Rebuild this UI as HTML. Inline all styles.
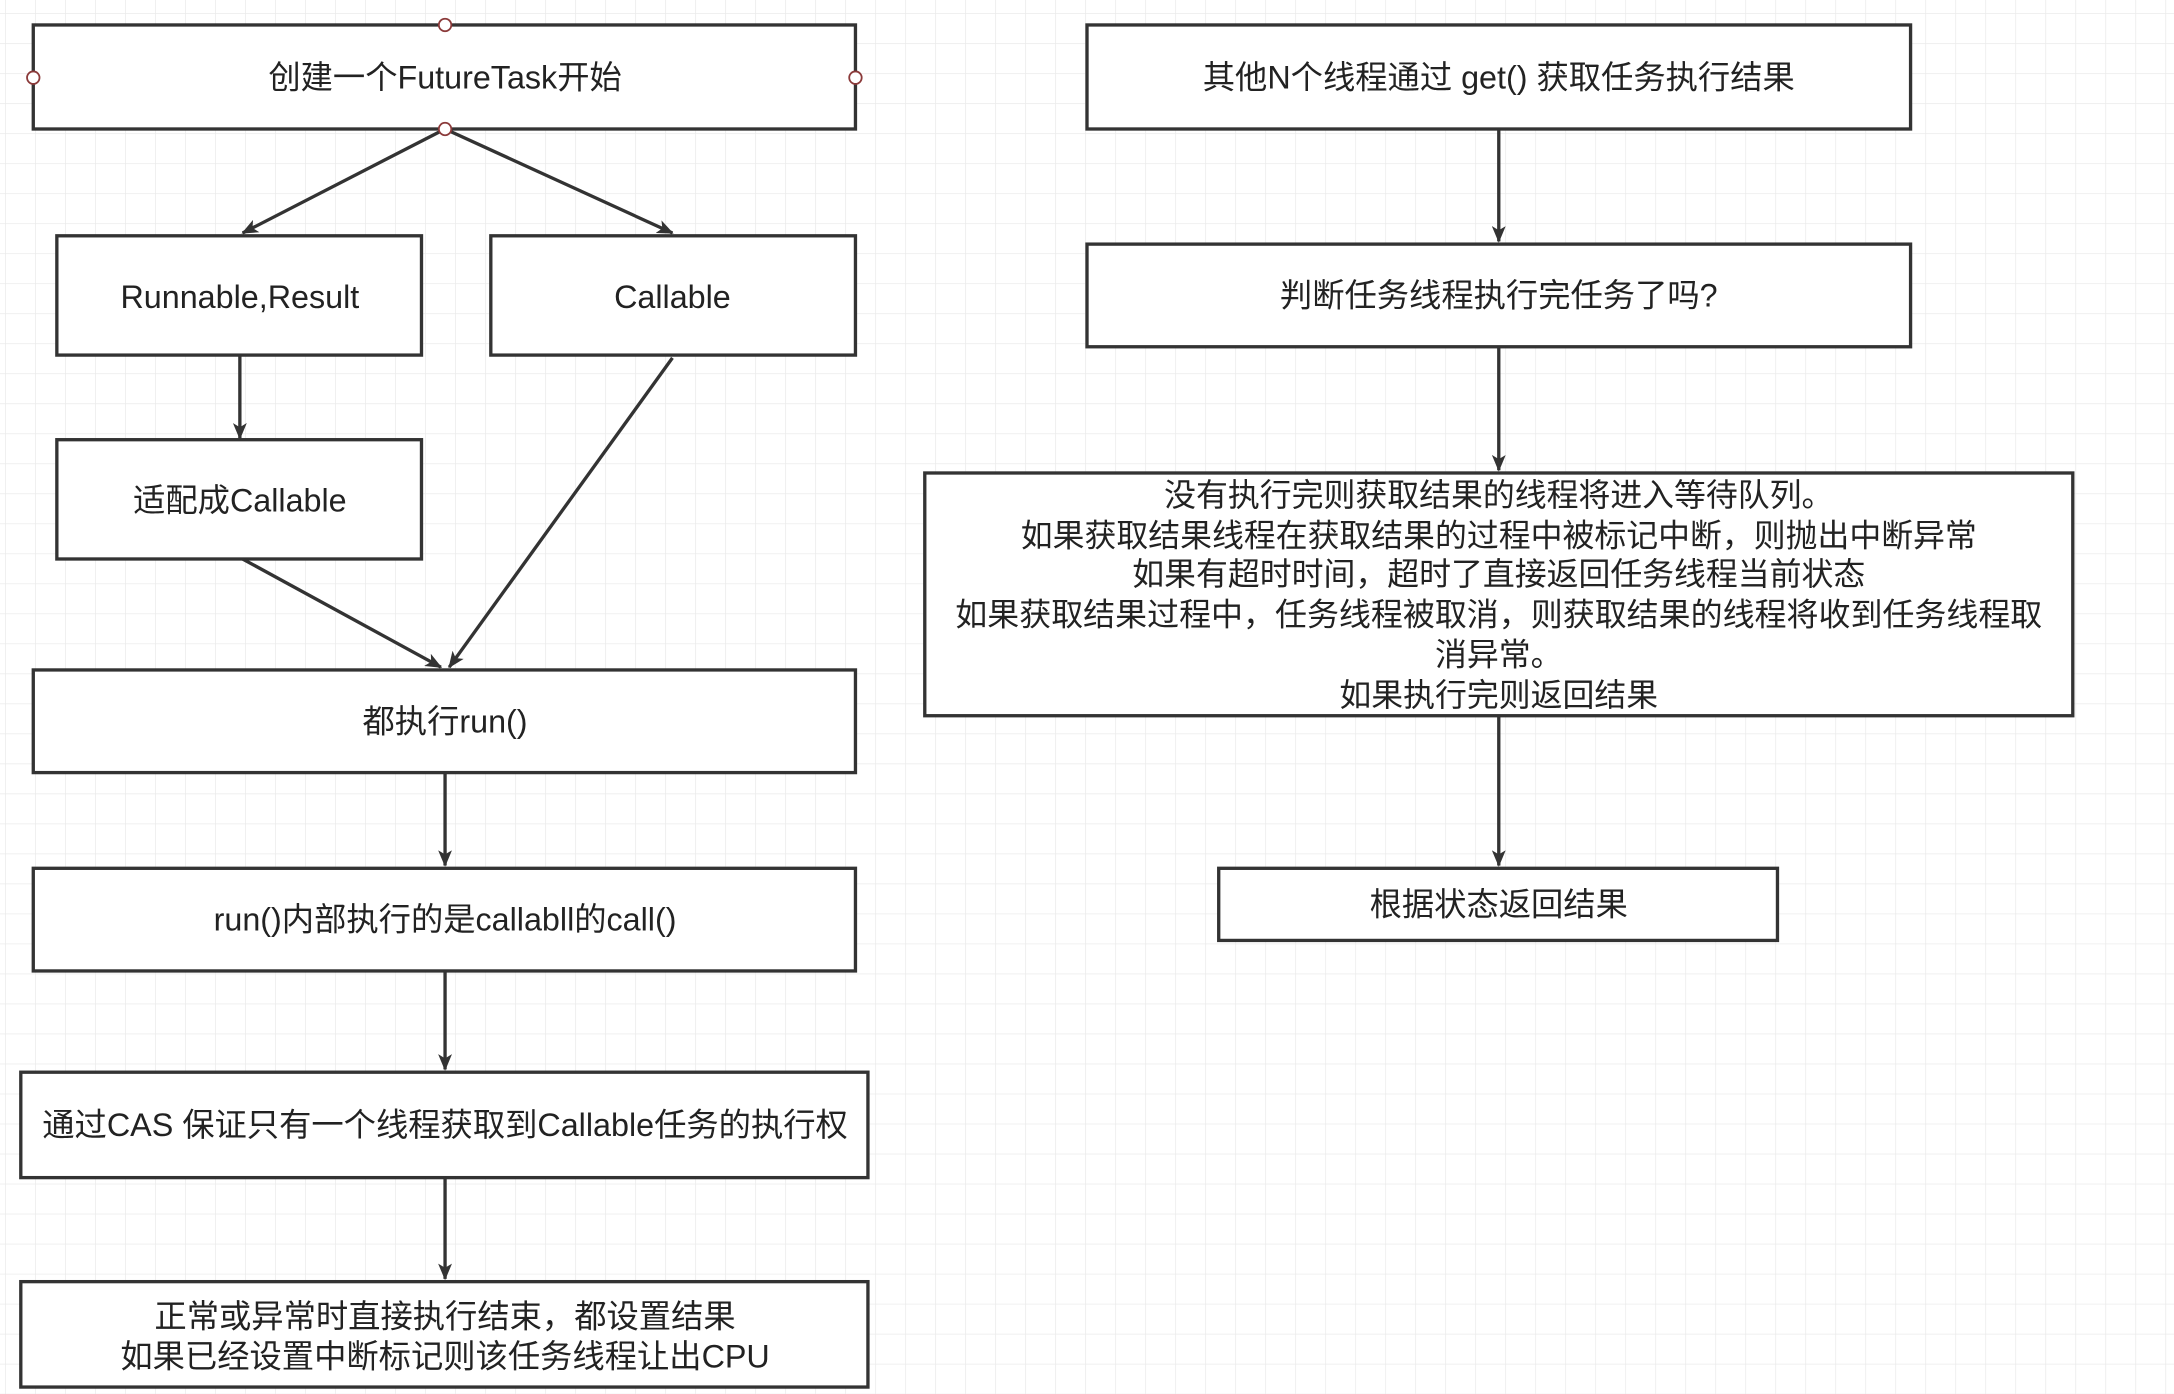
<!DOCTYPE html>
<html><head><meta charset="utf-8"><style>
html,body{margin:0;padding:0;background:#fff}
svg{display:block}
text{font-family:"Liberation Sans","Noto Sans CJK SC",sans-serif;fill:#222;text-anchor:middle;dominant-baseline:central}
</style></head><body>
<svg width="2174" height="1394" viewBox="0 0 1568 1005" preserveAspectRatio="none" xmlns="http://www.w3.org/2000/svg">
<defs>
<pattern id="g" x="3.6" y="9.4" width="21.64" height="21.64" patternUnits="userSpaceOnUse">
<path d="M0 0H21.64M0 0V21.64" stroke="#ebebeb" stroke-width="1.1" fill="none"/>
</pattern>
<marker id="a" viewBox="0 0 12 10" refX="11" refY="5" markerWidth="12" markerHeight="10" markerUnits="userSpaceOnUse" orient="auto">
<path d="M0 0L12 5L0 10L3 5Z" fill="#333"/>
</marker>
</defs>
<rect width="1568" height="1005" fill="#fff"/>
<rect width="1568" height="1005" fill="url(#g)"/>
<g fill="#fff" stroke="#333" stroke-width="2.4">
<rect x="24" y="18" width="593" height="75"/>
<rect x="41" y="170" width="263" height="86"/>
<rect x="354" y="170" width="263" height="86"/>
<rect x="41" y="317" width="263" height="86"/>
<rect x="24" y="483" width="593" height="74"/>
<rect x="24" y="626" width="593" height="74"/>
<rect x="15" y="773" width="611" height="76"/>
<rect x="15" y="924" width="611" height="76"/>
<rect x="784" y="18" width="594" height="75"/>
<rect x="784" y="176" width="594" height="74"/>
<rect x="667" y="341" width="828" height="175"/>
<rect x="879" y="626" width="403" height="52"/>
</g>
<g stroke="#333" stroke-width="2.4" fill="none" marker-end="url(#a)">
<line x1="321" y1="93" x2="175" y2="168"/>
<line x1="321" y1="93" x2="485" y2="168"/>
<line x1="173" y1="256" x2="173" y2="316"/>
<line x1="175" y1="403" x2="318" y2="481"/>
<line x1="485" y1="258" x2="324" y2="481"/>
<line x1="321" y1="557" x2="321" y2="624"/>
<line x1="321" y1="700" x2="321" y2="771"/>
<line x1="321" y1="849" x2="321" y2="922"/>
<line x1="1081" y1="93" x2="1081" y2="174"/>
<line x1="1081" y1="250" x2="1081" y2="339"/>
<line x1="1081" y1="516" x2="1081" y2="624"/>
</g>
<g fill="#fff" stroke="#8b3a3a" stroke-width="1.3">
<circle cx="321" cy="18" r="4.5"/><circle cx="24" cy="56" r="4.5"/><circle cx="617" cy="56" r="4.5"/><circle cx="321" cy="93" r="4.5"/>
</g>
<g font-size="23.3">
<text x="321" y="56">创建一个FutureTask开始</text>
<text x="173" y="214">Runnable,Result</text>
<text x="485" y="214">Callable</text>
<text x="173" y="361">适配成Callable</text>
<text x="321" y="520">都执行run()</text>
<text x="321" y="663">run()内部执行的是callabll的call()</text>
<text x="321" y="811">通过CAS 保证只有一个线程获取到Callable任务的执行权</text>
<text x="321" y="949">正常或异常时直接执行结束，都设置结果</text>
<text x="321" y="978">如果已经设置中断标记则该任务线程让出CPU</text>
<text x="1081" y="56">其他N个线程通过 get() 获取任务执行结果</text>
<text x="1081" y="213">判断任务线程执行完任务了吗?</text>
<text x="1081" y="652">根据状态返回结果</text>
</g>
<g font-size="23">
<text x="1081" y="357">没有执行完则获取结果的线程将进入等待队列。</text>
<text x="1081" y="386">如果获取结果线程在获取结果的过程中被标记中断，则抛出中断异常</text>
<text x="1081" y="414">如果有超时时间，超时了直接返回任务线程当前状态</text>
<text x="1081" y="443" textLength="784" lengthAdjust="spacingAndGlyphs">如果获取结果过程中，任务线程被取消，则获取结果的线程将收到任务线程取</text>
<text x="1081" y="472">消异常。</text>
<text x="1081" y="501">如果执行完则返回结果</text>
</g>
</svg>
</body></html>
